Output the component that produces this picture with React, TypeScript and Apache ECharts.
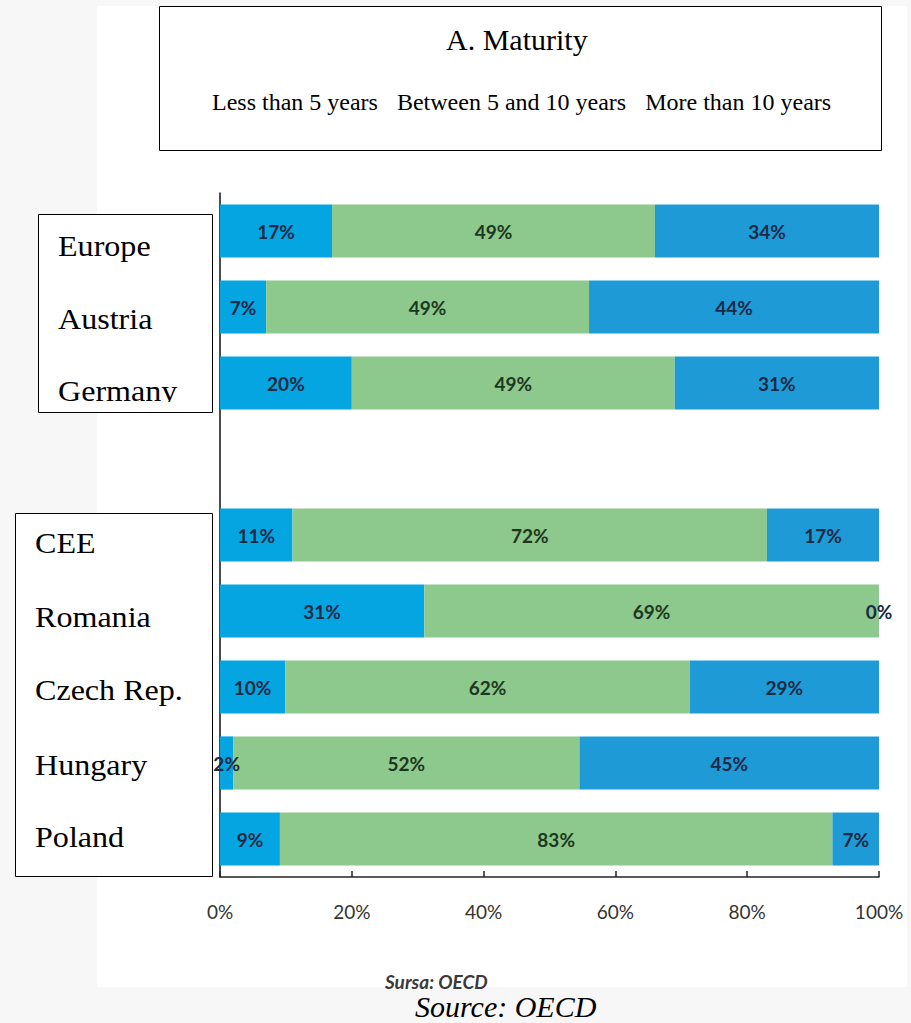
import React, { useEffect, useRef } from "react";
import * as echarts from "echarts";

// ---- Data ----
const categories = ["Europe", "Austria", "Germany", "", "CEE", "Romania", "Czech Rep.", "Hungary", "Poland"];
const upperGroup = ["Europe", "Austria", "Germany"];
const lowerGroup = ["CEE", "Romania", "Czech Rep.", "Hungary", "Poland"];
const seriesNames = ["Less than 5 years", "Between 5 and 10 years", "More than 10 years"];
const lessThan5 = [17, 7, 20, null, 11, 31, 10, 2, 9];
const between5and10 = [49, 49, 49, null, 72, 69, 62, 52, 83];
const moreThan10 = [34, 44, 31, null, 17, 0, 29, 45, 7];
const xTicks = [0, 20, 40, 60, 80, 100];
const titleText = "A. Maturity";
const sourceRo = "Sursa: OECD";
const sourceEn = "Source: OECD";

const seriesColors = ["#05a5e2", "#8dc88c", "#1e9bd7"];
const labelColors = ["#182a46", "#1d3820", "#182a46"];

export default function App() {
  const ref = useRef<HTMLDivElement>(null);

  useEffect(() => {
    if (!ref.current) return;
    const chart = echarts.init(ref.current, undefined, { renderer: "svg" });
    const raw = [lessThan5, between5and10, moreThan10];
    const totals = categories.map((_, i) =>
      raw.reduce((s, arr) => s + ((arr[i] as number | null) ?? 0), 0)
    );

    const series = raw.map((arr, k) => ({
      name: seriesNames[k],
      type: "bar",
      stack: "total",
      barCategoryGap: "30%",
      data: arr.map((v, i) => (v == null ? null : (v / totals[i]) * 100)),
      itemStyle: { color: seriesColors[k] },
      label: {
        show: true,
        position: "inside",
        formatter: (p: any) => `${arr[p.dataIndex]}%`,
        color: labelColors[k],
        fontFamily: "Lato",
        fontWeight: "bold",
        fontSize: 19,
      },
      emphasis: { disabled: true },
    }));

    const serif = "'Liberation Serif', 'Times New Roman', serif";
    const graphic: any[] = [
      // white page area
      { type: "rect", z: -10, shape: { x: 97, y: 6, width: 810, height: 981 }, style: { fill: "#ffffff" } },
      // title box
      { type: "rect", z: -5, shape: { x: 159.5, y: 6.5, width: 722, height: 144 }, style: { fill: "#ffffff", stroke: "#000", lineWidth: 1 } },
      // upper label box
      { type: "rect", z: 1, shape: { x: 38.5, y: 214.5, width: 174, height: 198 }, style: { fill: "#ffffff", stroke: "#000", lineWidth: 1 } },
      // lower label box
      { type: "rect", z: 1, shape: { x: 15.5, y: 513.5, width: 197, height: 363 }, style: { fill: "#ffffff", stroke: "#000", lineWidth: 1 } },
    ];
    const upperY = [246, 319, 391];
    upperGroup.forEach((name, i) => {
      graphic.push({
        type: "text",
        z: 2,
        x: 58,
        y: upperY[i],
        scaleX: 1.07,
        style: { text: name, x: 0, y: 0, fontFamily: serif, fontSize: 30, fill: "#000", textVerticalAlign: "middle" },
      });
    });
    // clip bottom of the last upper label like the reference
    graphic.push({ type: "rect", z: 3, shape: { x: 39.5, y: 402, width: 172, height: 10 }, style: { fill: "#ffffff" } });
    const lowerY = [543, 617, 690, 765, 837];
    lowerGroup.forEach((name, i) => {
      graphic.push({
        type: "text",
        z: 2,
        x: 35,
        y: lowerY[i],
        scaleX: 1.07,
        style: { text: name, x: 0, y: 0, fontFamily: serif, fontSize: 30, fill: "#000", textVerticalAlign: "middle" },
      });
    });
    graphic.push({
      type: "text",
      z: 2,
      style: { text: sourceRo, x: 385, y: 981, fontFamily: "Lato", fontStyle: "italic", fontWeight: "bold", fontSize: 19, fill: "#3a3a3a", textVerticalAlign: "middle" },
    });
    graphic.push({
      type: "text",
      z: 2,
      style: { text: sourceEn, x: 415, y: 1006, fontFamily: serif, fontStyle: "italic", fontSize: 30, fill: "#000", textVerticalAlign: "middle" },
    });

    chart.setOption({
      animation: false,
      backgroundColor: "#f7f7f7",
      title: {
        text: titleText,
        left: 446,
        top: 24,
        padding: 0,
        textStyle: { fontFamily: serif, fontSize: 30, fontWeight: "normal", color: "#000" },
      },
      legend: {
        data: seriesNames,
        icon: "none",
        itemWidth: 0,
        itemHeight: 0,
        itemGap: 14,
        left: 207,
        top: 90,
        padding: 0,
        selectedMode: false,
        textStyle: { fontFamily: serif, fontSize: 24, color: "#000" },
      },
      grid: { left: 220, right: 32, top: 193, bottom: 146, containLabel: false },
      xAxis: {
        type: "value",
        min: xTicks[0],
        max: xTicks[xTicks.length - 1],
        interval: xTicks[1] - xTicks[0],
        axisLine: { show: true, lineStyle: { color: "#222", width: 1.5 } },
        axisTick: { show: true, inside: true, length: 6, lineStyle: { color: "#222", width: 1.5 } },
        splitLine: { show: false },
        axisLabel: { formatter: "{value}%", fontFamily: "Lato", fontSize: 19, color: "#333", margin: 25 },
      },
      yAxis: {
        type: "category",
        data: categories,
        inverse: true,
        axisLine: { show: true, lineStyle: { color: "#111", width: 1.5 } },
        axisTick: { show: false },
        axisLabel: { show: false },
      },
      graphic,
      series,
    } as any);
    return () => chart.dispose();
  }, []);

  return <div ref={ref} style={{ position: "absolute", left: 0, top: 0, width: 911, height: 1023 }} />;
}
